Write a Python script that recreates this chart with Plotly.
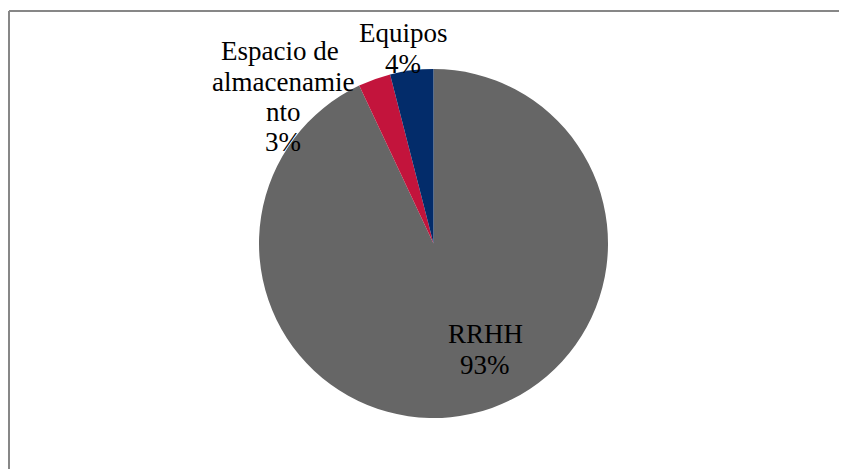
import textwrap
import plotly.graph_objects as go

labels = ["RRHH", "Espacio de almacenamiento", "Equipos"]
percents = [93, 3, 4]
colors = ["#666666", "#C3143C", "#032C6A"]

W, H = 847, 469
OFF = 8  # page body margin offset
cx, cy, r = 433.5 - OFF, 243.5 - OFF, 174.5

fig = go.Figure(go.Pie(
    labels=labels,
    values=percents,
    sort=False,
    direction="clockwise",
    rotation=0,
    marker=dict(colors=colors, line=dict(width=0)),
    textinfo="none",
    hoverinfo="label+percent",
    showlegend=False,
    domain=dict(x=[(cx - r) / W, (cx + r) / W], y=[1 - (cy + r) / H, 1 - (cy - r) / H]),
))

# label anchor: centre x, first-line baseline y (pixels in screenshot)
label_pos = [(485, 343), (283, 60), (403, 42)]
LINE = 30.5
FS = 27
for lab, pct, (px, py) in zip(labels, percents, label_pos):
    lines = textwrap.wrap(lab, 11, break_long_words=True) + [f"{pct}%"]
    for i, ln in enumerate(lines):
        ymid = py + i * LINE - 9 - OFF
        fig.add_annotation(x=(px - OFF) / W, y=1 - ymid / H, xref="paper", yref="paper",
                           text=ln, showarrow=False, xanchor="center", yanchor="middle",
                           font=dict(family="Liberation Serif", size=FS, color="#000000"))

# chart border (top and left visible)
fig.add_shape(type="line", xref="paper", yref="paper", x0=1 / W, x1=1.01, y0=1 - 3 / H, y1=1 - 3 / H,
              line=dict(color="#878787", width=2))
fig.add_shape(type="line", xref="paper", yref="paper", x0=1 / W, x1=1 / W, y0=-0.02, y1=1 - 3 / H,
              line=dict(color="#878787", width=2))

fig.update_layout(width=W, height=H, margin=dict(l=0, r=0, t=0, b=0),
                  paper_bgcolor="white", plot_bgcolor="white")
fig.write_html("out.html")
